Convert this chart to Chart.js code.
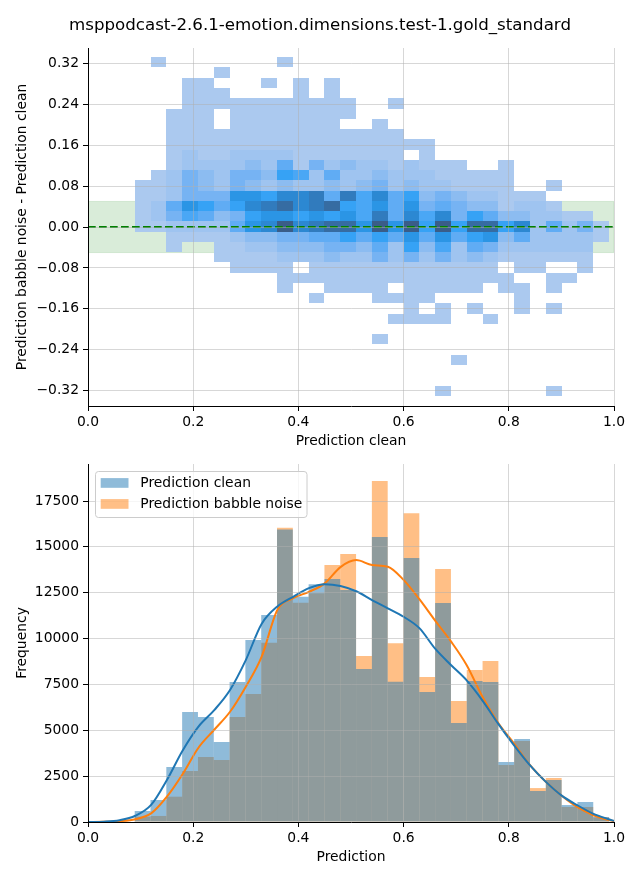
<!DOCTYPE html>
<html>
<head>
<meta charset="utf-8">
<script src="https://cdn.jsdelivr.net/npm/chart.js@4.4.1/dist/chart.umd.min.js"></script>
<style>
html,body{margin:0;padding:0;background:#fff;}
#wrap{position:relative;width:640px;height:880px;overflow:hidden;}
#c1{position:absolute;left:0;top:0;}
#c2{position:absolute;left:0;top:460px;}
</style>
</head>
<body>
<div id="wrap">
<canvas id="c1" width="640" height="460"></canvas>
<canvas id="c2" width="640" height="420"></canvas>
</div>
<script>
// ---------------- data ----------------
const figureTitle = 'msppodcast-2.6.1-emotion.dimensions.test-1.gold_standard';
const seriesNames = ['Prediction clean', 'Prediction babble noise'];

// shared x bins of both panels (Prediction clean / Prediction)
const binStart = 0.0888;
const binWidth = 0.03006;

// y bins of the 2D histogram (difference babble - clean)
const diffBinStart = -0.330;
const diffBinWidth = 0.02006;

// 2D histogram: relative count level per cell (0 = empty, 1..c = light..dark),
// one string per y bin (top bin first), 30 x bins in groups of five
const heatLevels = [
  ".1... ....1 ..... ..... ..... .....",
  "..... 1.... ..... ..... ..... .....",
  "...11 ...1. 1.1.. ..... ..... .....",
  "...11 1.... 1.1.. ..... ..... .....",
  "...11 11111 1111. .1... ..... .....",
  "..111 .1111 1111. ..... ..... .....",
  "..111 .1111 111.. 1.... ..... .....",
  "..111 11111 11111 11... ..... .....",
  "..111 11111 11111 1111. ..... .....",
  "..121 12222 11111 11.1. ..... .....",
  "..122 22325 14232 21211 1..1. .....",
  ".1243 24437 62522 32221 1111. .....",
  "11243 24323 22323 42322 1111. .1...",
  "11244 48879 9a5a6 95734 32211 1....",
  "12587 579ab 9ab76 85845 43312 21...",
  "12465 34788 78786 a5969 47533 2211.",
  "11222 2589c 9abb8 c8c7c 7bb79 25241",
  "..111 12334 45575 75858 57835 22221",
  "..1.. 11223 33443 52736 25422 2222.",
  "..... 11112 22322 42424 23211 1111.",
  "..... .1111 .1111 11111 111.1 1..1.",
  "..... ....1 11111 11111 1111. .11..",
  "..... ....1 ..111 1.111 11.11 .1...",
  "..... ..... .1... 1111. ....1 .....",
  "..... ..... ..... ..1.1 .1..1 .1...",
  "..... ..... ..... .1111 ..1.. .....",
  "..... ..... ..... ..... ..... .....",
  "..... ..... ..... 1.... ..... .....",
  "..... ..... ..... ..... ..... .....",
  "..... ..... ..... ..... 1.... .....",
  "..... ..... ..... ..... ..... .....",
  "..... ..... ..... ..... ..... .....",
  "..... ..... ..... ....1 ..... .1..."
];

const xTicks = [0, 0.2, 0.4, 0.6, 0.8, 1.0];
const diffTicks = [-0.32, -0.24, -0.16, -0.08, 0, 0.08, 0.16, 0.24, 0.32];
const freqTicks = [0, 2500, 5000, 7500, 10000, 12500, 15000, 17500];

const bandRange = [-0.05, 0.05];
const zeroLineX = [0, 1];
const zeroLineY = [0, 0];

// 1D histograms (counts per bin)
const histClean  = [600, 1200, 3000, 6000, 5720, 4360, 7630, 9920, 11280, 15950,
                    12280, 12970, 13250, 12650, 8340, 15535, 7650, 14390, 7090, 11940,
                    5400, 7690, 7630, 3270, 4520, 1690, 2290, 925, 1090, 270];
const histBabble = [290, 330, 1380, 2780, 3540, 3380, 5720, 6980, 9770, 16050,
                    11960, 12470, 14010, 14610, 9050, 18590, 9740, 16840, 7900, 13790,
                    6600, 8290, 8780, 3110, 4410, 1850, 2400, 820, 820, 250];

// KDE curves (scaled to counts)
const kdeX = [0, 0.03, 0.06, 0.09, 0.12, 0.15, 0.18, 0.21, 0.24, 0.27, 0.30, 0.33, 0.36, 0.39,
              0.42, 0.45, 0.48, 0.51, 0.54, 0.57, 0.60, 0.63, 0.66, 0.69, 0.72, 0.75, 0.78,
              0.81, 0.84, 0.87, 0.90, 0.93, 0.96, 0.99, 1.0];
const kdeClean  = [0, 20, 100, 340, 930, 2290, 3900, 5200, 6100, 7200, 8830, 10800, 11750, 12280,
                   12750, 12970, 12870, 12580, 12100, 11650, 11190, 10570, 9450, 8560, 7720, 6620, 5350,
                   4180, 3100, 2200, 1450, 920, 460, 150, 60];
const kdeBabble = [0, 10, 45, 150, 470, 1380, 2620, 4050, 5030, 6010, 7380, 9000, 11560, 12200,
                   12550, 13010, 13900, 14280, 14010, 13920, 13200, 12150, 10980, 9850, 8550, 6830, 5400,
                   4280, 3110, 2200, 1450, 820, 380, 110, 50];

// ---------------- styles ----------------
const levelColors = ['', '#abc9ef', '#9fc4f0', '#8cbcf1', '#76b3f3', '#60acf4', '#4aa7f5',
                     '#36a2f5', '#2b95e5', '#2c88d2', '#317bbd', '#366ca2', '#3a5d88'];
const gridColor = 'rgba(176,176,176,0.5)';
const FS = 13.89;

Chart.defaults.font.family = "'DejaVu Sans', sans-serif";
Chart.defaults.font.size = FS;
Chart.defaults.color = '#000';

const heatPlugin = {
  id: 'heat',
  beforeDatasetsDraw(chart) {
    const {ctx, chartArea: a, scales: {x, y}} = chart;
    ctx.save();
    ctx.beginPath();
    ctx.rect(a.left, a.top, a.right - a.left, a.bottom - a.top);
    ctx.clip();
    const yb1 = y.getPixelForValue(bandRange[1]);
    const yb0 = y.getPixelForValue(bandRange[0]);
    ctx.fillStyle = 'rgba(0,128,0,0.15)';
    ctx.fillRect(a.left, yb1, a.right - a.left, yb0 - yb1);
    ctx.strokeStyle = 'rgba(0,128,0,0.12)';
    ctx.lineWidth = 1;
    ctx.strokeRect(a.left, yb1, a.right - a.left, yb0 - yb1);
    const nRows = heatLevels.length;
    heatLevels.forEach((row, i) => {
      const j = nRows - 1 - i;
      const cells = row.replace(/ /g, '');
      for (let k = 0; k < cells.length; k++) {
        const lv = parseInt(cells[k], 16);
        if (!lv) continue;
        const x0 = Math.round(x.getPixelForValue(binStart + k * binWidth));
        const x1 = Math.round(x.getPixelForValue(binStart + (k + 1) * binWidth));
        const y0 = Math.round(y.getPixelForValue(diffBinStart + j * diffBinWidth));
        const y1 = Math.round(y.getPixelForValue(diffBinStart + (j + 1) * diffBinWidth));
        ctx.fillStyle = levelColors[lv];
        ctx.fillRect(x0, y1, x1 - x0, y0 - y1);
      }
    });
    ctx.restore();
  }
};

const suptitlePlugin = {
  id: 'suptitle',
  afterDraw(chart) {
    const ctx = chart.ctx;
    ctx.save();
    ctx.font = "16.67px 'DejaVu Sans', sans-serif";
    ctx.fillStyle = '#000';
    ctx.textAlign = 'center';
    ctx.textBaseline = 'middle';
    ctx.fillText(figureTitle, chart.width / 2, 26);
    ctx.restore();
  }
};

function roundRectPath(ctx, x, y, w, h, r) {
  ctx.beginPath();
  ctx.moveTo(x + r, y);
  ctx.lineTo(x + w - r, y);
  ctx.arcTo(x + w, y, x + w, y + r, r);
  ctx.lineTo(x + w, y + h - r);
  ctx.arcTo(x + w, y + h, x + w - r, y + h, r);
  ctx.lineTo(x + r, y + h);
  ctx.arcTo(x, y + h, x, y + h - r, r);
  ctx.lineTo(x, y + r);
  ctx.arcTo(x, y, x + r, y, r);
  ctx.closePath();
}

const legendColors = ['rgba(31,119,180,0.5)', 'rgba(255,127,14,0.5)'];
const legendPlugin = {
  id: 'boxLegend',
  afterDraw(chart) {
    const {ctx, chartArea: a} = chart;
    const x0 = a.left + 7.5, y0 = a.top + 7.5, w = 211.5, h = 46;
    ctx.save();
    roundRectPath(ctx, x0, y0, w, h, 3);
    ctx.fillStyle = 'rgba(255,255,255,0.8)';
    ctx.fill();
    ctx.strokeStyle = '#cccccc';
    ctx.lineWidth = 1;
    ctx.stroke();
    ctx.font = FS + "px 'DejaVu Sans', sans-serif";
    ctx.textBaseline = 'middle';
    ctx.textAlign = 'left';
    seriesNames.forEach((name, i) => {
      const cy = a.top + 19 + i * 21;
      ctx.fillStyle = legendColors[i];
      ctx.fillRect(a.left + 12.7, cy - 4.9, 27.8, 9.7);
      ctx.fillStyle = '#000';
      ctx.fillText(name, a.left + 52.3, cy);
    });
    ctx.restore();
  }
};

const axisCommon = (extra) => Object.assign({
  grid: {color: gridColor, lineWidth: 1, z: 1, offset: false, tickColor: '#000', tickLength: 5, tickWidth: 1},
  border: {display: true, color: '#000', width: 1, z: 2}
}, extra);

const fitX = (h) => (s) => { s.height = h; s.paddingLeft = 0; s.paddingRight = 0; };
const fitY = (w) => (s) => { s.width = w; s.paddingTop = 0; s.paddingBottom = 0; };

// ---------------- top panel ----------------
new Chart(document.getElementById('c1'), {
  type: 'line',
  data: {
    datasets: [{
      data: zeroLineX.map((v, i) => ({x: v, y: zeroLineY[i]})),
      borderColor: '#008000', borderWidth: 2, borderDash: [7.7, 3.3],
      pointRadius: 0, fill: false
    }]
  },
  options: {
    responsive: false, animation: false,
    layout: {padding: {left: 0, right: 26, top: 48, bottom: 0}},
    plugins: {legend: {display: false}, tooltip: {enabled: false}, title: {display: false}},
    scales: {
      x: axisCommon({
        type: 'linear', min: 0, max: 1, position: 'bottom',
        afterBuildTicks: s => { s.ticks = xTicks.map(v => ({value: v})); },
        afterFit: fitX(54),
        ticks: {autoSkip: false, maxRotation: 0, padding: 3, callback: v => v.toFixed(1)},
        title: {display: true, text: 'Prediction clean', padding: {top: 0, bottom: 10.7}}
      }),
      y: axisCommon({
        type: 'linear', min: -0.35, max: 0.35, position: 'left',
        afterBuildTicks: s => { s.ticks = diffTicks.map(v => ({value: v})); },
        afterFit: fitY(88),
        ticks: {autoSkip: false, padding: 4,
          callback: v => (v < 0 ? '\u2212' : '') + Math.abs(v).toFixed(2)},
        title: {display: true, text: 'Prediction babble noise - Prediction clean', padding: {top: 13.7, bottom: 0}}
      })
    }
  },
  plugins: [heatPlugin, suptitlePlugin]
});

// ---------------- bottom panel ----------------
const binCenters = histClean.map((_, k) => binStart + (k + 0.5) * binWidth);
new Chart(document.getElementById('c2'), {
  type: 'bar',
  data: {
    datasets: [
      {type: 'line', label: seriesNames[0] + ' kde', data: kdeX.map((v, i) => ({x: v, y: kdeClean[i]})),
       borderColor: '#1f77b4', borderWidth: 2, pointRadius: 0, fill: false,
       cubicInterpolationMode: 'monotone', order: -2},
      {type: 'line', label: seriesNames[1] + ' kde', data: kdeX.map((v, i) => ({x: v, y: kdeBabble[i]})),
       borderColor: '#ff7f0e', borderWidth: 2, pointRadius: 0, fill: false,
       cubicInterpolationMode: 'monotone', order: -1},
      {type: 'bar', label: seriesNames[0], data: histClean.map((v, k) => ({x: binCenters[k], y: v})),
       backgroundColor: 'rgba(31,119,180,0.5)', borderWidth: 0, barPercentage: 1, categoryPercentage: 1,
       grouped: false, inflateAmount: 0, order: 0},
      {type: 'bar', label: seriesNames[1], data: histBabble.map((v, k) => ({x: binCenters[k], y: v})),
       backgroundColor: 'rgba(255,127,14,0.5)', borderWidth: 0, barPercentage: 1, categoryPercentage: 1,
       grouped: false, inflateAmount: 0, order: 1}
    ]
  },
  options: {
    responsive: false, animation: false,
    layout: {padding: {left: 0, right: 26, top: 4, bottom: 0}},
    plugins: {legend: {display: false}, tooltip: {enabled: false}, title: {display: false}},
    scales: {
      x: axisCommon({
        type: 'linear', min: 0, max: 1, position: 'bottom', offset: false,
        afterBuildTicks: s => { s.ticks = xTicks.map(v => ({value: v})); },
        afterFit: fitX(58),
        ticks: {autoSkip: false, maxRotation: 0, padding: 3, callback: v => v.toFixed(1)},
        title: {display: true, text: 'Prediction', padding: {top: 0, bottom: 14.7}}
      }),
      y: axisCommon({
        type: 'linear', min: 0, max: 19520, position: 'left',
        afterBuildTicks: s => { s.ticks = freqTicks.map(v => ({value: v})); },
        afterFit: fitY(88),
        ticks: {autoSkip: false, padding: 4, callback: v => String(v)},
        title: {display: true, text: 'Frequency', padding: {top: 13.7, bottom: 0}}
      })
    }
  },
  plugins: [legendPlugin]
});
</script>
</body>
</html>
